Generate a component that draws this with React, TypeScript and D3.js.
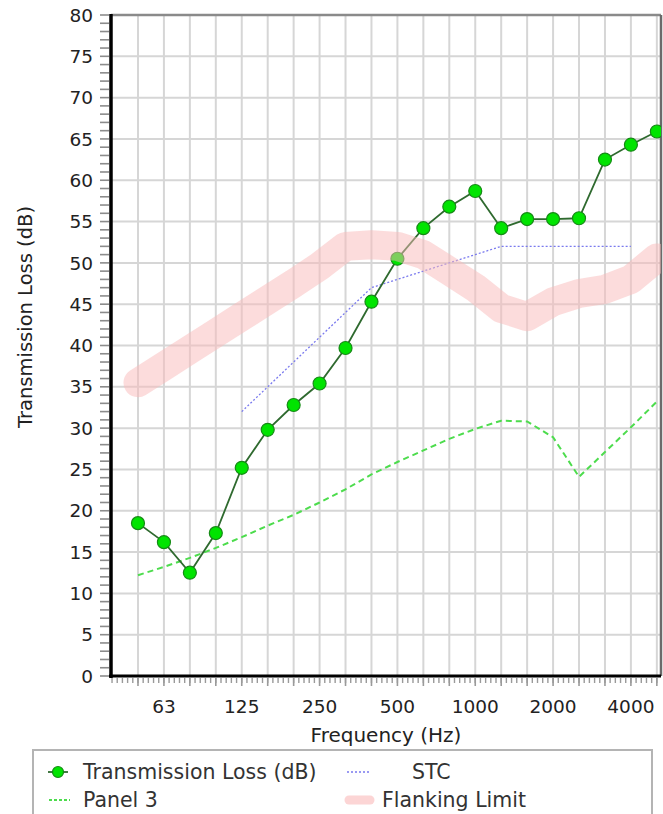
import React from 'react';
import * as d3 from 'd3';

// 1/3-octave band centres (nominal, Hz)
const bands = [50, 63, 80, 100, 125, 160, 200, 250, 315, 400, 500, 630, 800, 1000, 1250, 1600, 2000, 2500, 3150, 4000, 5000];
const transmissionLoss = [18.5, 16.2, 12.5, 17.3, 25.2, 29.8, 32.8, 35.4, 39.7, 45.3, 50.5, 54.2, 56.8, 58.7, 54.2, 55.3, 55.3, 55.4, 62.5, 64.3, 65.9];
const panel3 = [12.2, 13.2, 14.3, 15.5, 16.8, 18.2, 19.5, 21.0, 22.6, 24.4, 25.9, 27.3, 28.7, 29.9, 30.9, 30.8, 28.9, 24.1, 27.1, 30.1, 33.2];
const stcBands = [125, 160, 200, 250, 315, 400, 500, 630, 800, 1000, 1250, 1600, 2000, 2500, 3150, 4000];
const stcContour = [32, 35, 38, 41, 44, 47, 48, 49, 50, 51, 52, 52, 52, 52, 52, 52];
const flankingLimit = [35.5, 37.5, 39.5, 41.5, 43.5, 45.5, 47.5, 49.6, 52, 52.2, 52, 51, 49, 47, 44.5, 43.5, 45.3, 46.3, 46.8, 48, 50.6];
const xTickLabels = [63, 125, 250, 500, 1000, 2000, 4000];
const yTickLabels = [0, 5, 10, 15, 20, 25, 30, 35, 40, 45, 50, 55, 60, 65, 70, 75, 80];

const W = 663;
const H = 814;
const left = 111;
const right = 661;
const top = 15;
const bottom = 676;

// exact band frequency from band number relative to 1 kHz
const bandNo = (f: number) => Math.round(10 * Math.log10(f / 1000));
const exactF = (n: number) => 1000 * Math.pow(10, n / 10);
const fx = (f: number) => exactF(bandNo(f));

const x = d3.scaleLog().domain([exactF(-14.04), exactF(7.16)]).range([left, right]);
const y = d3.scaleLinear().domain([0, 80]).range([bottom, top]);

const FONT = '"DejaVu Sans", Verdana, sans-serif';
const PINK = 'rgb(250,185,185)';

export default function App() {
  const tlPts = bands.map((b, i) => [x(fx(b)), y(transmissionLoss[i])] as [number, number]);
  const p3Pts = bands.map((b, i) => [x(fx(b)), y(panel3[i])] as [number, number]);
  const stcPts = stcBands.map((b, i) => [x(fx(b)), y(stcContour[i])] as [number, number]);
  const flPts = bands.map((b, i) => [x(fx(b)), y(flankingLimit[i])] as [number, number]);
  const line = d3.line();

  // x minor ticks: 5 per band
  const xMinor: number[] = [];
  for (let n = -14; n <= 7; n++) {
    for (let j = 0; j < 5; j++) {
      const v = x(exactF(n + j / 5));
      if (v >= left && v <= right) xMinor.push(v);
    }
  }
  const yMinor = d3.range(0, 81, 1);

  return (
    <svg width={W} height={H} style={{ position: 'absolute', left: 0, top: 0, background: '#fff' }}
      fontFamily={FONT}>
      <defs>
        <clipPath id="plot">
          <rect x={left} y={top} width={right - left} height={bottom - top} />
        </clipPath>
      </defs>
      <rect x={0} y={0} width={W} height={H} fill="#fff" />
      {/* grid */}
      {bands.map((b) => (
        <line key={'gx' + b} x1={x(fx(b))} x2={x(fx(b))} y1={top} y2={bottom} stroke="#d6d6d6" strokeWidth={2} />
      ))}
      {yTickLabels.filter((v) => v > 0 && v < 80).map((v) => (
        <line key={'gy' + v} x1={left} x2={right} y1={y(v)} y2={y(v)} stroke="#d6d6d6" strokeWidth={2} />
      ))}
      {/* borders */}
      <line x1={left} x2={right} y1={top} y2={top} stroke="#8a8a8a" strokeWidth={2.5} />
      <line x1={right} x2={right} y1={top} y2={bottom} stroke="#6a6a6a" strokeWidth={2.5} />

      <g clipPath="url(#plot)">
        <path d={line(p3Pts) || ''} fill="none" stroke="#4ddc4d" strokeWidth={2} strokeDasharray="6,4" />
        <path d={line(stcPts) || ''} fill="none" stroke="#7a7aee" strokeWidth={1.3} strokeDasharray="2,2" />
        <path d={line(tlPts) || ''} fill="none" stroke="#2f6a2f" strokeWidth={1.8} />
        {tlPts.map((p, i) => (
          <circle key={'m' + i} cx={p[0]} cy={p[1]} r={6.5} fill="#00e400" stroke="#168a16" strokeWidth={1.2} />
        ))}
        <path d={line(flPts) || ''} fill="none" stroke={PINK} strokeOpacity={0.5} strokeWidth={29}
          strokeLinecap="round" strokeLinejoin="round" />
      </g>

      {/* y axis */}
      {yMinor.map((v) => (
        <line key={'yt' + v} x1={100} x2={109} y1={y(v)} y2={y(v)} stroke="#8c8c8c" strokeWidth={1.6} />
      ))}
      {yTickLabels.map((v) => (
        <text key={'yl' + v} x={93} y={y(v)} dy="0.36em" textAnchor="end" fontSize={18.5} fill="#222">{v}</text>
      ))}
      <line x1={left} x2={left} y1={top - 1} y2={bottom + 2} stroke="#000" strokeWidth={3.5} />

      {/* x axis */}
      {xMinor.map((v, i) => (
        <line key={'xt' + i} x1={v} x2={v} y1={bottom + 2} y2={bottom + 7} stroke="#9a9a9a" strokeWidth={1.4} />
      ))}
      {bands.map((b) => (
        <line key={'xM' + b} x1={x(fx(b))} x2={x(fx(b))} y1={bottom + 2} y2={bottom + 10} stroke="#9a9a9a" strokeWidth={1.6} />
      ))}
      <line x1={left - 2} x2={right} y1={bottom} y2={bottom} stroke="#000" strokeWidth={3} />
      {xTickLabels.map((v) => (
        <text key={'xl' + v} x={x(fx(v))} y={706} dy="0.36em" textAnchor="middle" fontSize={18.5} fill="#222">{v}</text>
      ))}
      <text x={386} y={735} dy="0.36em" textAnchor="middle" fontSize={20} fill="#222">Frequency (Hz)</text>
      <text transform="translate(32,317) rotate(-90)" textAnchor="middle" fontSize={19.5} fill="#222">Transmission Loss (dB)</text>

      {/* legend */}
      <rect x={33} y={750} width={619} height={90} fill="#fff" stroke="#b4b4b4" strokeWidth={2} />
      <line x1={48} x2={68} y1={772} y2={772} stroke="#2f6a2f" strokeWidth={1.8} />
      <circle cx={58} cy={772} r={5.5} fill="#00e400" stroke="#168a16" strokeWidth={1.2} />
      <text x={83} y={772} dy="0.36em" fontSize={20.5} fill="#333">Transmission Loss (dB)</text>
      <line x1={49} x2={70} y1={800} y2={800} stroke="#4ddc4d" strokeWidth={2} strokeDasharray="3,2" />
      <text x={83} y={800} dy="0.36em" fontSize={20.5} fill="#333">Panel 3</text>
      <line x1={347} x2={369} y1={772} y2={772} stroke="#7a7aee" strokeWidth={1.3} strokeDasharray="2,2" />
      <text x={412} y={772} dy="0.36em" fontSize={20.5} fill="#333">STC</text>
      <line x1={349} x2={370} y1={800} y2={800} stroke={PINK} strokeOpacity={0.6} strokeWidth={9} strokeLinecap="round" />
      <text x={382} y={800} dy="0.36em" fontSize={20.5} fill="#333">Flanking Limit</text>
    </svg>
  );
}
